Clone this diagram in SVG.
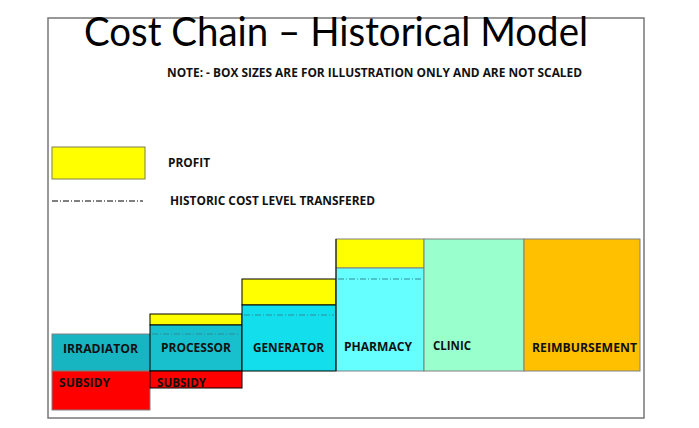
<svg xmlns="http://www.w3.org/2000/svg" width="699" height="428" viewBox="0 0 699 428">
<style>
.lbl{font-family:"Open Sans","Liberation Sans",sans-serif;font-weight:bold;font-size:12px;fill:#111}
.blk{stroke:#000;stroke-width:1}
.gry{stroke:#808080;stroke-width:1}
.dl{stroke:#2f8c96;stroke-width:1;stroke-dasharray:6 2 1 2;fill:none}
</style>
<rect width="699" height="428" fill="#fff"/>
<rect x="48" y="18" width="596" height="400" fill="#fff" stroke="#777" stroke-width="1.5"/>
<text x="84" y="46" font-family="Lato,'Open Sans',sans-serif" font-size="40" textLength="504" lengthAdjust="spacingAndGlyphs" fill="#000">Cost Chain – Historical Model</text>
<text x="167" y="77" class="lbl" font-size="10" textLength="415" lengthAdjust="spacingAndGlyphs">NOTE: - BOX SIZES ARE FOR ILLUSTRATION ONLY AND ARE NOT SCALED</text>
<g id="legend-profit">
<rect x="52" y="147" width="93" height="32" fill="#ffff00" stroke="#7f7f4f" stroke-width="1"/>
<text x="168" y="167" class="lbl" font-size="11" textLength="42" lengthAdjust="spacingAndGlyphs">PROFIT</text>
</g>
<g id="legend-cost">
<line x1="52" y1="201" x2="143" y2="201" stroke="#000" stroke-width="1" stroke-dasharray="6 2 1 2"/>
<text x="170" y="205" class="lbl" font-size="11" textLength="205" lengthAdjust="spacingAndGlyphs">HISTORIC COST LEVEL TRANSFERED</text>
</g>
<g id="irradiator">
<rect x="52" y="334" width="98" height="37" fill="#17b4c2" class="gry"/>
<text x="63" y="353" class="lbl" textLength="75" lengthAdjust="spacingAndGlyphs">IRRADIATOR</text>
<rect x="52" y="371" width="98" height="39" fill="#ff0000" class="gry"/>
<text x="59" y="387" class="lbl" textLength="51" lengthAdjust="spacingAndGlyphs">SUBSIDY</text>
</g>
<g id="processor">
<rect x="150" y="314" width="92" height="11" fill="#ffff00" class="blk"/>
<rect x="150" y="325" width="92" height="46" fill="#17c0cc" class="blk"/>
<line x1="152" y1="334" x2="240" y2="334" class="dl"/>
<text x="161" y="352" class="lbl" textLength="70" lengthAdjust="spacingAndGlyphs">PROCESSOR</text>
<rect x="150" y="371" width="92" height="17" fill="#ff0000" class="blk"/>
<text x="157" y="387" class="lbl" textLength="49" lengthAdjust="spacingAndGlyphs">SUBSIDY</text>
</g>
<g id="generator">
<rect x="242" y="279" width="94" height="26" fill="#ffff00" class="blk"/>
<rect x="242" y="305" width="94" height="66" fill="#12dfeb" class="blk"/>
<line x1="244" y1="315" x2="334" y2="315" class="dl"/>
<text x="253" y="352" class="lbl" textLength="71" lengthAdjust="spacingAndGlyphs">GENERATOR</text>
</g>
<g id="pharmacy">
<rect x="336" y="239" width="88" height="29" fill="#ffff00" class="gry"/>
<rect x="336" y="268" width="88" height="103" fill="#66ffff" class="gry"/>
<line x1="336" y1="239" x2="336" y2="371" stroke="#000"/>
<line x1="338" y1="279" x2="422" y2="279" class="dl"/>
<text x="344" y="351" class="lbl" textLength="68" lengthAdjust="spacingAndGlyphs">PHARMACY</text>
</g>
<g id="clinic">
<rect x="424" y="239" width="100" height="132" fill="#99ffcc" class="gry"/>
<text x="433" y="350" class="lbl" textLength="38" lengthAdjust="spacingAndGlyphs">CLINIC</text>
</g>
<g id="reimbursement">
<rect x="524" y="239" width="116" height="132" fill="#ffc000" class="gry"/>
<text x="532" y="352" class="lbl" textLength="105" lengthAdjust="spacingAndGlyphs">REIMBURSEMENT</text>
</g>
<g id="connectors"></g>
</svg>
